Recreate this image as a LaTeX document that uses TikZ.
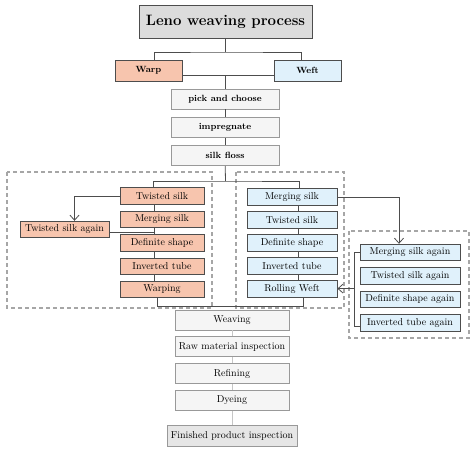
\documentclass[tikz,border=0pt]{standalone}
\usepackage{fontspec}
\usetikzlibrary{arrows.meta,positioning,calc}
\definecolor{warpfill}{HTML}{F7C5AE}
\definecolor{weftfill}{HTML}{E0F1FB}
\definecolor{stagefill}{HTML}{F5F5F5}
\definecolor{headfill}{HTML}{DCDCDC}
\definecolor{edge}{HTML}{4D4D4D}

\begin{document}
\begin{tikzpicture}[x=1pt, y=-1pt,
	node distance=6pt,
	head/.style={draw=edge, fill=headfill, line width=0.9pt, minimum width=173pt, minimum height=33pt, font=\fontsize{15}{17}\selectfont\bfseries},
	side/.style={draw=edge, line width=1pt, minimum width=67pt, minimum height=21pt, font=\small\bfseries},
	stage/.style={draw=gray!80, fill=stagefill, line width=0.8pt, minimum width=108pt, minimum height=20pt, font=\small\bfseries},
	warpbox/.style={draw=edge, fill=warpfill, line width=0.9pt, minimum width=84pt, minimum height=16.5pt, inner sep=1pt},
	weftbox/.style={draw=edge, fill=weftfill, line width=0.9pt, minimum width=90pt, minimum height=17pt, inner sep=1pt},
	againbox/.style={weftbox, minimum width=100pt, minimum height=16.5pt},
	endbox/.style={draw=gray!80, fill=stagefill, line width=0.8pt, minimum width=114pt, minimum height=20pt, inner sep=1pt},
	frame/.style={draw=gray!70, line width=1.1pt, dash pattern=on 4pt off 3pt},
	conn/.style={draw=edge, line width=0.8pt},
	lite/.style={draw=gray!45, line width=0.8pt},
	arr/.style={conn, -{Straight Barb[length=5pt, width=9pt]}}
	]
	\useasboundingbox (0,0) rectangle (474,450);
	\draw[frame] (7,172) rectangle (212,308);
	\draw[frame] (236,172) rectangle (344,308);
	\draw[frame] (349,231) rectangle (469,338);
	
	\node[head] (title) at (225.5,21.5) {Leno weaving process};
	\node[side, fill=warpfill] (warp) at (148.5,70.5) {Warp};
	\node[side, fill=weftfill] (weft) at (307.5,70.5) {Weft};
	\node[stage] (pick) at (225,99) {pick and choose};
	\node[stage, below=8pt of pick] (impr) {impregnate};
	\node[stage, below=7pt of impr] (floss) {silk floss};
	
	\node[warpbox] (wtwist) at (162,196) {Twisted silk};
	\node[warpbox, below=of wtwist] (wmerge) {Merging silk};
	\node[warpbox, below=of wmerge] (wshape) {Definite shape};
	\node[warpbox, below=of wshape] (wtube) {Inverted tube};
	\node[warpbox, below=of wtube] (wwarping) {Warping};
	\node[warpbox, minimum width=89pt] (wagain) at (64.5,229.5) {Twisted silk again};
	
	\node[weftbox] (fmerge) at (292,197) {Merging silk};
	\node[weftbox, below=5pt of fmerge] (ftwist) {Twisted silk};
	\node[weftbox, below=5pt of ftwist] (fshape) {Definite shape};
	\node[weftbox, below=5pt of fshape] (ftube) {Inverted tube};
	\node[weftbox, below=5pt of ftube] (froll) {Rolling Weft};
	
	\node[againbox] (amerge) at (410,252.5) {Merging silk again};
	\node[againbox, below=of amerge] (atwist) {Twisted silk again};
	\node[againbox, below=of atwist] (ashape) {Definite shape again};
	\node[againbox, below=of ashape] (atube) {Inverted tube again};
	
	\node[endbox] (weave) at (232,320) {Weaving};
	\node[endbox, below=of weave] (raw) {Raw material inspection};
	\node[endbox, below=of raw] (refine) {Refining};
	\node[endbox, below=of refine] (dye) {Dyeing};
	\node[endbox, fill=headfill!70, minimum width=130pt, minimum height=21pt] (fin) at (232,435.5) {Finished product inspection};
	
	\coordinate (tj) at (225.5,52);
	\coordinate (fj) at (225.5,181);
	\coordinate (wj) at ([xshift=-8pt]wmerge.south);
	\coordinate (brk) at ([xshift=-5pt]amerge.west);
	
	\draw[conn] (title) -- (tj);
	\draw[conn] ([xshift=6pt]warp.north) |- (tj) -| ([xshift=-6pt]weft.north);
	\draw[conn] ([yshift=-4.5pt]warp.east) -- ([yshift=-4.5pt]weft.west);
	\draw[conn] (pick.north) -- ++(0,-14);
	\draw[conn] (pick) -- (impr);
	\draw[conn] (impr) -- (floss);
	\draw[conn] (floss) -- (fj);
	\draw[conn] ([xshift=-9pt]wtwist.north) |- (fj) -| ([xshift=7pt]fmerge.north);
	
	\foreach \a/\b in {wtwist/wmerge, wmerge/wshape, wshape/wtube, wtube/wwarping}
		\draw[conn] ([xshift=-8pt]\a.south) -- ([xshift=-8pt]\b.north);
	\foreach \a/\b in {fmerge/ftwist, ftwist/fshape, fshape/ftube, ftube/froll}
		\draw[conn] ([xshift=6pt]\a.south) -- ([xshift=6pt]\b.north);
	
	\draw[arr] (wtwist.west) -| ([xshift=10pt]wagain.north);
	\draw[conn] ([yshift=-2.5pt]wagain.east) -- ([yshift=-2.5pt]wagain.east -| wj);
	\draw[conn] ([xshift=-5pt]wwarping.south) -- ++(0,8) -| ([xshift=11pt]froll.south);
	
	\draw[arr] (fmerge.east) -| ([xshift=-11pt]amerge.north);
	\draw[conn] (amerge.west) -- (brk) |- ([yshift=-4pt]atube.west);
	\draw[arr] (brk |- froll.east) -- (froll.east);
	
	\draw[lite] (weave) -- (raw);
	\draw[lite] (raw) -- (refine);
	\draw[lite] (refine) -- (dye);
	\draw[lite] (dye) -- (fin);
\end{tikzpicture}
\end{document}
